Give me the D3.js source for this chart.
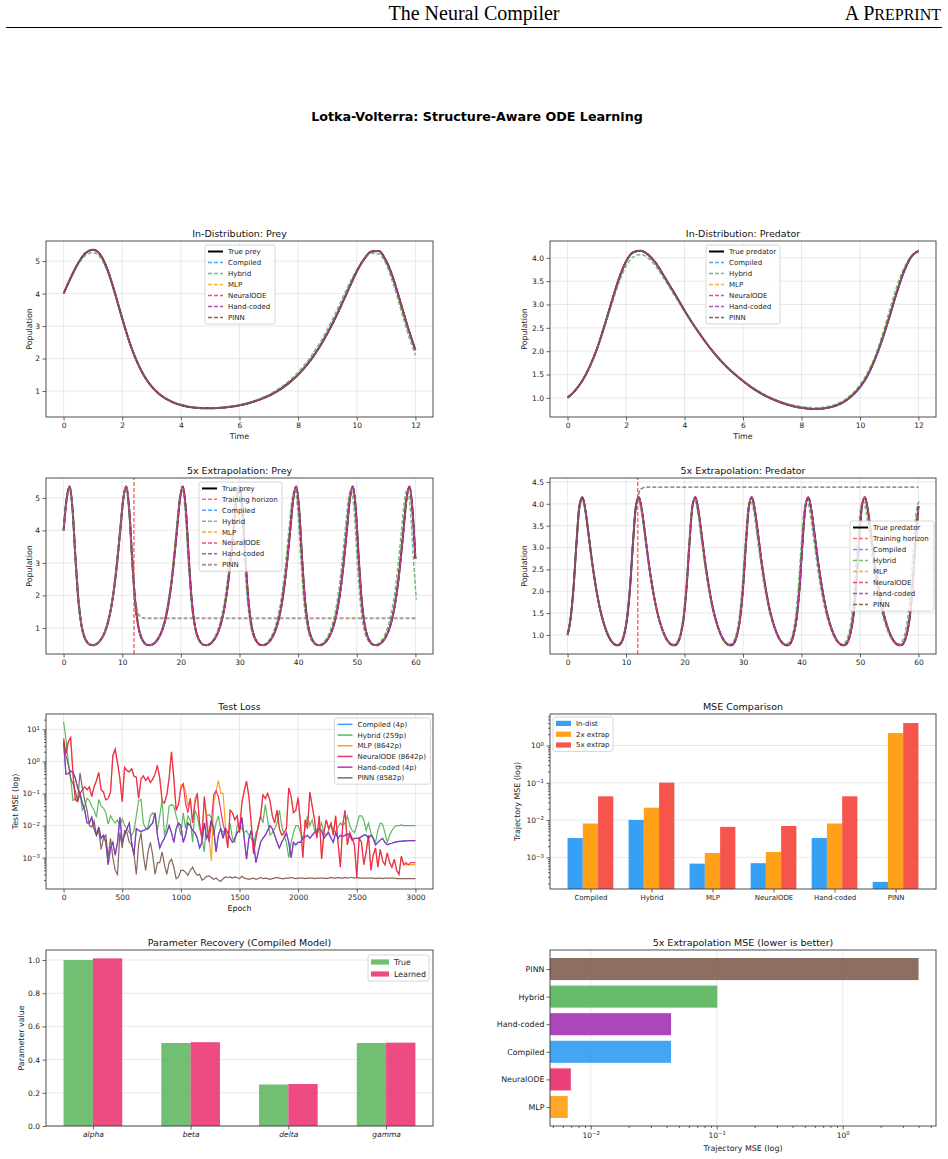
<!DOCTYPE html>
<html>
<head>
<meta charset="utf-8">
<script src="https://cdn.jsdelivr.net/npm/d3@7"></script>
<style>
body { margin: 0; background: #fff; }
svg text { font-family: "DejaVu Sans", sans-serif; fill: #222; }
</style>
</head>
<body>
<svg id="fig" width="948" height="1159"></svg>
<script>
// ---- trajectories, in-distribution (t = 0..12, step 0.25) ----
const inDistT = d3.range(49).map(i => i * 0.25);
const truePrey = [4.00, 4.50, 4.94, 5.25, 5.35, 5.20, 4.73, 4.02, 3.23, 2.50, 1.91, 1.46, 1.14, 0.915, 0.756, 0.645, 0.569,
  0.518, 0.487, 0.471, 0.467, 0.474, 0.492, 0.520, 0.559, 0.610, 0.675, 0.756, 0.855, 0.976, 1.122, 1.297, 1.506,
  1.754, 2.046, 2.387, 2.778, 3.218, 3.698, 4.198, 4.682, 5.06, 5.30, 5.31, 5.01, 4.45, 3.70, 2.94, 2.26];
const truePred = [1.00, 1.15, 1.36, 1.66, 2.04, 2.52, 3.04, 3.54, 3.92, 4.12, 4.15, 4.07, 3.90, 3.66, 3.40, 3.14, 2.87,
  2.62, 2.39, 2.17, 1.97, 1.79, 1.63, 1.49, 1.36, 1.24, 1.14, 1.05, 0.976, 0.912, 0.859, 0.817, 0.787,
  0.769, 0.763, 0.773, 0.801, 0.852, 0.933, 1.06, 1.23, 1.47, 1.81, 2.23, 2.72, 3.24, 3.70, 4.02, 4.15];
const hybridPrey = [4.00, 4.48, 4.90, 5.18, 5.26, 5.12, 4.66, 3.98, 3.22, 2.51, 1.93, 1.48, 1.16, 0.93, 0.77, 0.66, 0.585,
  0.53, 0.50, 0.485, 0.48, 0.487, 0.505, 0.535, 0.575, 0.63, 0.70, 0.785, 0.89, 1.02, 1.175, 1.36, 1.58,
  1.84, 2.15, 2.50, 2.91, 3.36, 3.84, 4.32, 4.74, 5.06, 5.24, 5.22, 4.90, 4.28, 3.52, 2.76, 2.10];
const hybridPred = [1.00, 1.15, 1.36, 1.65, 2.02, 2.48, 2.98, 3.45, 3.82, 4.02, 4.07, 4.00, 3.83, 3.60, 3.35, 3.10, 2.85,
  2.61, 2.38, 2.17, 1.98, 1.80, 1.64, 1.50, 1.37, 1.26, 1.16, 1.07, 0.995, 0.93, 0.88, 0.84, 0.81,
  0.795, 0.79, 0.80, 0.83, 0.885, 0.97, 1.10, 1.28, 1.53, 1.87, 2.32, 2.85, 3.37, 3.78, 4.03, 4.12];

// ---- trajectories, 5x extrapolation (t = 0..60) ----
const extrapT = d3.range(119).map(i => i * 60 / 118);
const extrapPrey = [
  4.00, 4.95, 5.35, 4.65, 3.12, 1.82, 1.08, 0.72, 0.552, 0.48, 0.468, 0.503, 0.581, 0.712, 0.915, 1.217, 1.65, 2.254, 3.06,
  4.00, 4.95, 5.35, 4.65, 3.12, 1.82, 1.08, 0.72, 0.552, 0.48, 0.468, 0.503, 0.581, 0.712, 0.915, 1.217, 1.65, 2.254, 3.06,
  4.00, 4.95, 5.35, 4.65, 3.12, 1.82, 1.08, 0.72, 0.552, 0.48, 0.468, 0.503, 0.581, 0.712, 0.915, 1.217, 1.65, 2.254, 3.06,
  4.00, 4.95, 5.35, 4.65, 3.12, 1.82, 1.08, 0.72, 0.552, 0.48, 0.468, 0.503, 0.581, 0.712, 0.915, 1.217, 1.65, 2.254, 3.06,
  4.00, 4.95, 5.35, 4.65, 3.12, 1.82, 1.08, 0.72, 0.552, 0.48, 0.468, 0.503, 0.581, 0.712, 0.915, 1.217, 1.65, 2.254, 3.06,
  4.00, 4.95, 5.35, 4.65, 3.12, 1.82, 1.08, 0.72, 0.552, 0.48, 0.468, 0.503, 0.581, 0.712, 0.915, 1.217, 1.65, 2.254, 3.06,
  4.00, 4.95, 5.35, 4.65, 3.12];
const extrapPred = [
  1.00, 1.37, 2.07, 3.10, 3.95, 4.15, 3.85, 3.34, 2.80, 2.32, 1.91, 1.57, 1.31, 1.10, 0.944, 0.836, 0.776, 0.765, 0.815,
  1.00, 1.37, 2.07, 3.10, 3.95, 4.15, 3.85, 3.34, 2.80, 2.32, 1.91, 1.57, 1.31, 1.10, 0.944, 0.836, 0.776, 0.765, 0.815,
  1.00, 1.37, 2.07, 3.10, 3.95, 4.15, 3.85, 3.34, 2.80, 2.32, 1.91, 1.57, 1.31, 1.10, 0.944, 0.836, 0.776, 0.765, 0.815,
  1.00, 1.37, 2.07, 3.10, 3.95, 4.15, 3.85, 3.34, 2.80, 2.32, 1.91, 1.57, 1.31, 1.10, 0.944, 0.836, 0.776, 0.765, 0.815,
  1.00, 1.37, 2.07, 3.10, 3.95, 4.15, 3.85, 3.34, 2.80, 2.32, 1.91, 1.57, 1.31, 1.10, 0.944, 0.836, 0.776, 0.765, 0.815,
  1.00, 1.37, 2.07, 3.10, 3.95, 4.15, 3.85, 3.34, 2.80, 2.32, 1.91, 1.57, 1.31, 1.10, 0.944, 0.836, 0.776, 0.765, 0.815,
  1.00, 1.37, 2.07, 3.10, 3.95];
// hybrid runs slightly fast, so it has its own sampling step
const hybridExtrapT = d3.range(120).map(i => i * 0.5055);
const hybridExtrapPrey = [
  4.00, 4.90, 5.26, 4.62, 3.15, 1.87, 1.13, 0.75, 0.575, 0.495, 0.48, 0.507, 0.59, 0.72, 0.93, 1.24, 1.67, 2.27, 3.07,
  4.00, 4.90, 5.26, 4.62, 3.15, 1.87, 1.13, 0.75, 0.575, 0.495, 0.48, 0.507, 0.59, 0.72, 0.93, 1.24, 1.67, 2.27, 3.07,
  4.00, 4.90, 5.26, 4.62, 3.15, 1.87, 1.13, 0.75, 0.575, 0.495, 0.48, 0.507, 0.59, 0.72, 0.93, 1.24, 1.67, 2.27, 3.07,
  4.00, 4.90, 5.26, 4.62, 3.15, 1.87, 1.13, 0.75, 0.575, 0.495, 0.48, 0.507, 0.59, 0.72, 0.93, 1.24, 1.67, 2.27, 3.07,
  4.00, 4.90, 5.26, 4.62, 3.15, 1.87, 1.13, 0.75, 0.575, 0.495, 0.48, 0.507, 0.59, 0.72, 0.93, 1.24, 1.67, 2.27, 3.07,
  4.00, 4.90, 5.26, 4.62, 3.15, 1.87, 1.13, 0.75, 0.575, 0.495, 0.48, 0.507, 0.59, 0.72, 0.93, 1.24, 1.67, 2.27, 3.07,
  4.00, 4.90, 5.26, 4.62, 3.15, 1.87];
const hybridExtrapPred = [
  1.00, 1.37, 2.04, 3.02, 3.85, 4.07, 3.81, 3.32, 2.81, 2.34, 1.94, 1.61, 1.35, 1.14, 0.98, 0.865, 0.80, 0.792, 0.84,
  1.00, 1.37, 2.04, 3.02, 3.85, 4.07, 3.81, 3.32, 2.81, 2.34, 1.94, 1.61, 1.35, 1.14, 0.98, 0.865, 0.80, 0.792, 0.84,
  1.00, 1.37, 2.04, 3.02, 3.85, 4.07, 3.81, 3.32, 2.81, 2.34, 1.94, 1.61, 1.35, 1.14, 0.98, 0.865, 0.80, 0.792, 0.84,
  1.00, 1.37, 2.04, 3.02, 3.85, 4.07, 3.81, 3.32, 2.81, 2.34, 1.94, 1.61, 1.35, 1.14, 0.98, 0.865, 0.80, 0.792, 0.84,
  1.00, 1.37, 2.04, 3.02, 3.85, 4.07, 3.81, 3.32, 2.81, 2.34, 1.94, 1.61, 1.35, 1.14, 0.98, 0.865, 0.80, 0.792, 0.84,
  1.00, 1.37, 2.04, 3.02, 3.85, 4.07, 3.81, 3.32, 2.81, 2.34, 1.94, 1.61, 1.35, 1.14, 0.98, 0.865, 0.80, 0.792, 0.84,
  1.00, 1.37, 2.04, 3.02, 3.85, 4.07];
// PINN collapses to a fixed point after the training horizon
const horizon = 12;
const pinnTailT = [12.0, 12.3, 12.6, 13.0, 13.5, 14.0, 20, 30, 40, 50, 60];
const pinnTailPrey = [2.26, 1.80, 1.50, 1.36, 1.31, 1.30, 1.30, 1.30, 1.30, 1.30, 1.30];
const pinnTailPred = [4.15, 4.28, 4.34, 4.37, 4.38, 4.38, 4.38, 4.38, 4.38, 4.38, 4.38];

// ---- test loss, every 20 epochs ----
const epochs = d3.range(151).map(i => i * 20);
const lossHybrid = [17, 5, 1.0, 0.3, 0.06, 0.07, 0.06, 0.1, 0.03, 0.04,
  0.07, 0.06, 0.04, 0.03, 0.018, 0.065, 0.04, 0.035, 0.025, 0.011,
  0.02, 0.015, 0.012, 0.015, 0.01, 0.016, 0.01, 0.008, 0.006, 0.005,
  0.007, 0.02, 0.06, 0.065, 0.012, 0.008, 0.009, 0.02, 0.025, 0.02,
  0.007, 0.02, 0.065, 0.005, 0.01, 0.04, 0.045, 0.04, 0.02, 0.01,
  0.005, 0.025, 0.008, 0.02, 0.015, 0.003, 0.03, 0.02, 0.008, 0.004,
  0.0015, 0.02, 0.022, 0.018, 0.005, 0.012, 0.02, 0.008, 0.006, 0.008,
  0.003, 0.012, 0.004, 0.003, 0.01, 0.012, 0.008, 0.006, 0.007, 0.005,
  0.004, 0.0025, 0.006, 0.008, 0.02, 0.012, 0.045, 0.015, 0.005, 0.006,
  0.008, 0.012, 0.03, 0.01, 0.005, 0.003, 0.001, 0.003, 0.006, 0.01,
  0.01, 0.006, 0.004, 0.008, 0.02, 0.01, 0.015, 0.007, 0.005, 0.008,
  0.012, 0.006, 0.005, 0.007, 0.01, 0.008, 0.006, 0.009, 0.012, 0.01,
  0.012, 0.02, 0.01, 0.007, 0.006, 0.01, 0.02, 0.02, 0.015, 0.007,
  0.012, 0.006, 0.004, 0.003, 0.007, 0.012, 0.011, 0.006, 0.003, 0.005,
  0.007, 0.009, 0.01, 0.01, 0.0105, 0.01, 0.01, 0.01, 0.01, 0.01, 0.01];
const lossNeuralODE = [5.1, 1.7, 4.0, 5.5, 0.42, 0.063, 0.056, 0.1, 0.13, 0.16,
  0.13, 0.16, 0.08, 0.16, 0.25, 0.45, 0.13, 0.11, 0.063, 0.07,
  0.11, 1.5, 2.4, 0.9, 0.29, 0.055, 0.65, 0.52, 0.47, 0.59,
  0.35, 0.32, 0.07, 0.28, 0.35, 0.25, 0.32, 0.22, 0.28, 0.4,
  0.75, 0.3, 0.06, 0.05, 0.09, 0.3, 2.0, 0.3, 0.03, 0.045,
  0.14, 0.2, 0.05, 0.025, 0.07, 0.012, 0.05, 0.1, 0.011, 0.004,
  0.08, 0.012, 0.003, 0.011, 0.09, 0.12, 0.08, 0.03, 0.011, 0.006,
  0.002, 0.03, 0.025, 0.015, 0.02, 0.006, 0.05, 0.12, 0.24, 0.08,
  0.012, 0.0013, 0.004, 0.01, 0.02, 0.09, 0.07, 0.1, 0.06, 0.02,
  0.012, 0.03, 0.008, 0.005, 0.006, 0.008, 0.15, 0.08, 0.025, 0.03,
  0.07, 0.012, 0.001, 0.015, 0.008, 0.11, 0.04, 0.015, 0.004, 0.02,
  0.0009, 0.006, 0.015, 0.008, 0.012, 0.005, 0.02, 0.003, 0.0005, 0.01,
  0.03, 0.0025, 0.006, 0.004, 0.0025, 0.00025, 0.004, 0.003, 0.0006, 0.0015,
  0.005, 0.0004, 0.0012, 0.002, 0.0005, 0.0018, 0.0008, 0.0006, 0.0014, 0.0007,
  0.0005, 0.0009, 0.0004, 0.0003, 0.0011, 0.0006, 0.0007, 0.0006, 0.0007, 0.0007, 0.0007];
const lossMLP = [5.1, 1.7, 4.0, 5.5, 0.42, 0.063, 0.056, 0.1, 0.13, 0.16,
  0.13, 0.16, 0.08, 0.16, 0.25, 0.45, 0.13, 0.11, 0.063, 0.07,
  0.11, 1.5, 2.4, 0.9, 0.29, 0.055, 0.65, 0.52, 0.47, 0.59,
  0.35, 0.32, 0.07, 0.28, 0.35, 0.25, 0.32, 0.22, 0.28, 0.4,
  0.75, 0.3, 0.06, 0.05, 0.09, 0.3, 2.0, 0.3, 0.03, 0.045,
  0.18, 0.2, 0.12, 0.04, 0.07, 0.012, 0.07, 0.1, 0.011, 0.004,
  0.08, 0.02, 0.004, 0.0008, 0.05, 0.12, 0.25, 0.1, 0.1, 0.01,
  0.002, 0.03, 0.025, 0.015, 0.02, 0.006, 0.05, 0.12, 0.24, 0.08,
  0.012, 0.0013, 0.004, 0.01, 0.02, 0.09, 0.07, 0.1, 0.06, 0.02,
  0.012, 0.03, 0.008, 0.005, 0.006, 0.008, 0.15, 0.08, 0.025, 0.03,
  0.08, 0.012, 0.001, 0.015, 0.008, 0.11, 0.04, 0.015, 0.004, 0.02,
  0.0009, 0.006, 0.015, 0.008, 0.012, 0.005, 0.02, 0.003, 0.0005, 0.01,
  0.03, 0.0025, 0.006, 0.004, 0.0025, 0.00025, 0.004, 0.003, 0.0006, 0.0015,
  0.005, 0.0004, 0.0012, 0.002, 0.0005, 0.0018, 0.0008, 0.0006, 0.0014, 0.0007,
  0.0005, 0.0009, 0.0004, 0.0003, 0.0011, 0.0006, 0.0006, 0.0006, 0.0006, 0.0006, 0.0006];
const lossHandCoded = [4.1, 0.4, 0.42, 0.5, 0.45, 0.3, 0.15, 0.1, 0.05, 0.03,
  0.012, 0.012, 0.018, 0.008, 0.005, 0.009, 0.004, 0.005, 0.003, 0.0006,
  0.002, 0.003, 0.0012, 0.003, 0.018, 0.003, 0.005, 0.008, 0.012, 0.003,
  0.0012, 0.008, 0.007, 0.0065, 0.007, 0.0075, 0.008, 0.01, 0.012, 0.025,
  0.005, 0.002, 0.003, 0.004, 0.006, 0.01, 0.006, 0.003, 0.008, 0.012,
  0.01, 0.003, 0.005, 0.012, 0.01, 0.007, 0.006, 0.004, 0.002, 0.003,
  0.012, 0.004, 0.006, 0.015, 0.008, 0.0015, 0.005, 0.008, 0.004, 0.008,
  0.006, 0.004, 0.003, 0.004, 0.006, 0.007, 0.018, 0.004, 0.0009, 0.004,
  0.007, 0.003, 0.0007, 0.0015, 0.003, 0.004, 0.005, 0.007, 0.01, 0.008,
  0.005, 0.003, 0.002, 0.003, 0.004, 0.006, 0.003, 0.001, 0.003, 0.0025,
  0.003, 0.003, 0.004, 0.0045, 0.005, 0.004, 0.005, 0.006, 0.007, 0.008,
  0.007, 0.004, 0.005, 0.006, 0.004, 0.003, 0.006, 0.004, 0.005, 0.0045,
  0.005, 0.0055, 0.005, 0.0035, 0.004, 0.004, 0.004, 0.0045, 0.005, 0.005,
  0.004, 0.005, 0.004, 0.0025, 0.003, 0.0035, 0.004, 0.003, 0.0025, 0.0027,
  0.0028, 0.003, 0.0031, 0.0032, 0.0032, 0.0033, 0.0033, 0.0034, 0.0034, 0.0034, 0.0034];
const lossCompiled = lossHandCoded; // both 4-parameter models trace the same curve
const lossPINN = [3.8, 1.5, 0.8, 0.3, 0.2, 0.12, 0.06, 0.44, 0.15, 0.06,
  0.03, 0.01, 0.009, 0.014, 0.005, 0.007, 0.0018, 0.004, 0.005, 0.001,
  0.004, 0.001, 0.0004, 0.0003, 0.006, 0.002, 0.007, 0.006, 0.003, 0.0025,
  0.0013, 0.0003, 0.0025, 0.006, 0.0012, 0.0004, 0.0015, 0.003, 0.0012, 0.0003,
  0.0007, 0.0007, 0.0015, 0.0006, 0.0003, 0.0007, 0.0009, 0.0005, 0.00022, 0.00025,
  0.0004, 0.0004, 0.00035, 0.00028, 0.0004, 0.0005, 0.00035, 0.00028, 0.0003, 0.0002,
  0.00022, 0.00026, 0.00027, 0.00024, 0.00021, 0.00023, 0.0002, 0.00018, 0.00022, 0.00025,
  0.00024, 0.00025, 0.00023, 0.00025, 0.00024, 0.00022, 0.00026, 0.00023, 0.00022, 0.00021,
  0.00022, 0.00023, 0.00021, 0.00022, 0.00024, 0.00022, 0.00023, 0.00022, 0.00021, 0.00022,
  0.00023, 0.00024, 0.00023, 0.00022, 0.00022, 0.00023, 0.00023, 0.00024, 0.00023, 0.00022,
  0.00023, 0.00023, 0.00023, 0.00022, 0.00023, 0.00023, 0.00023, 0.00022, 0.00023, 0.00023,
  0.00023, 0.00023, 0.00022, 0.00023, 0.00024, 0.00023, 0.00023, 0.00024, 0.00023, 0.00023,
  0.00024, 0.00023, 0.00024, 0.00024, 0.00023, 0.00024, 0.00023, 0.00023, 0.00023, 0.00023,
  0.00023, 0.00023, 0.00023, 0.00022, 0.00023, 0.00023, 0.00022, 0.00023, 0.00023, 0.00023,
  0.00023, 0.00023, 0.00022, 0.00022, 0.00022, 0.00022, 0.00022, 0.00022, 0.00022, 0.00022, 0.00022];

// ---- MSE summary ----
const models = ["Compiled", "Hybrid", "MLP", "NeuralODE", "Hand-coded", "PINN"];
const paramCounts = ["4p", "259p", "8642p", "8642p", "4p", "8582p"];
const mseInDist = [0.0033, 0.0101, 0.00068, 0.0007, 0.0033, 0.00022];
const mse2x = [0.0081, 0.0215, 0.00131, 0.0014, 0.0081, 2.16];
const mse5x = [0.0434, 0.101, 0.00657, 0.00695, 0.0434, 4.0];

// ---- parameter recovery ----
const paramNames = ["alpha", "beta", "delta", "gamma"];
const paramTrue = [1.0, 0.5, 0.25, 0.5];
const paramLearned = [1.01, 0.505, 0.253, 0.502];

const modelColor = {Compiled: "#2196F3", Hybrid: "#4CAF50", MLP: "#FF9800", NeuralODE: "#E91E63",
  "Hand-coded": "#9C27B0", PINN: "#795548"};

const svg = d3.select("#fig");
const defs = svg.append("defs");
const GRID = "#b0b0b0", SPINE = "#3a3a3a";
let clipCount = 0;

// page header
svg.append("text").attr("x", 474).attr("y", 20).attr("text-anchor", "middle")
  .style("font-family", "'Liberation Serif', serif").attr("font-size", 20).style("fill", "#000")
  .text("The Neural Compiler");
const pre = svg.append("text").attr("x", 941).attr("y", 20).attr("text-anchor", "end")
  .style("font-family", "'Liberation Serif', serif").attr("font-size", 20).style("fill", "#000");
pre.append("tspan").text("A P");
pre.append("tspan").attr("font-size", 16).text("REPRINT");
svg.append("line").attr("x1", 6).attr("x2", 942).attr("y1", 27.5).attr("y2", 27.5)
  .attr("stroke", "#000").attr("stroke-width", 1);

svg.append("text").attr("x", 477).attr("y", 120.5).attr("text-anchor", "middle")
  .attr("font-size", 12.7).attr("font-weight", "bold").style("fill", "#000")
  .text("Lotka-Volterra: Structure-Aware ODE Learning");

function panel(box, title) {
  const g = svg.append("g").attr("transform", `translate(${box.x},${box.y})`);
  const id = "clip" + (clipCount++);
  defs.append("clipPath").attr("id", id).append("rect").attr("width", box.w).attr("height", box.h);
  g.append("text").attr("x", box.w / 2).attr("y", -4.5).attr("text-anchor", "middle")
    .attr("font-size", 9.5).style("fill", "#111").text(title);
  return {g, clip: `url(#${id})`};
}

function tidy(sel) {
  sel.attr("font-family", null).attr("font-size", null);
  sel.select(".domain").remove();
  sel.selectAll(".tick line").attr("stroke", SPINE).attr("stroke-width", 0.8);
  sel.selectAll(".tick text").attr("font-size", 7.5).style("fill", "#222");
}

function powTen(sel) {
  sel.selectAll(".tick text").each(function (d) {
    const e = Math.round(Math.log10(d));
    const t = d3.select(this).text("10");
    t.append("tspan").attr("dy", "-0.5em").attr("font-size", 5.4).text(String(e).replace("-", "\u2212"));
  });
}

function minorTicks(dom) {
  const out = [];
  for (let e = Math.floor(Math.log10(dom[0])); e <= Math.ceil(Math.log10(dom[1])); e++)
    for (let k = 2; k <= 9; k++) {
      const v = k * Math.pow(10, e);
      if (v > dom[0] && v < dom[1]) out.push(v);
    }
  return out;
}

function gridX(g, x, vals, h) {
  g.append("g").selectAll("line").data(vals).join("line")
    .attr("x1", d => x(d)).attr("x2", d => x(d)).attr("y1", 0).attr("y2", h)
    .attr("stroke", GRID).attr("stroke-opacity", 0.35).attr("stroke-width", 0.8);
}
function gridY(g, y, vals, w) {
  g.append("g").selectAll("line").data(vals).join("line")
    .attr("y1", d => y(d)).attr("y2", d => y(d)).attr("x1", 0).attr("x2", w)
    .attr("stroke", GRID).attr("stroke-opacity", 0.35).attr("stroke-width", 0.8);
}
function spines(g, box) {
  g.append("rect").attr("width", box.w).attr("height", box.h).attr("fill", "none")
    .attr("stroke", SPINE).attr("stroke-width", 0.9);
}
function xLabel(g, box, text, dy) {
  g.append("text").attr("x", box.w / 2).attr("y", box.h + dy).attr("text-anchor", "middle")
    .attr("font-size", 7.9).text(text);
}
function yLabel(box, text, px) {
  svg.append("text").attr("transform", `translate(${px},${box.y + box.h / 2}) rotate(-90)`)
    .attr("text-anchor", "middle").attr("dy", "0.35em").attr("font-size", 7.9).text(text);
}

function legend(x0, y0, w, rowH, items, fs, textDx) {
  const h = items.length * rowH + 2;
  const g = svg.append("g");
  g.append("rect").attr("x", x0).attr("y", y0).attr("width", w).attr("height", h).attr("rx", 2)
    .attr("fill", "#fff").attr("fill-opacity", 0.8).attr("stroke", "#cccccc").attr("stroke-width", 0.8);
  items.forEach((it, i) => {
    const cy = y0 + 1 + rowH * (i + 0.5);
    if (it.patch) {
      g.append("rect").attr("x", x0 + 3).attr("y", cy - 2.6).attr("width", textDx - 8).attr("height", 5.2)
        .attr("fill", it.color).attr("fill-opacity", it.op || 1);
    } else {
      g.append("line").attr("x1", x0 + 3).attr("x2", x0 + 18).attr("y1", cy).attr("y2", cy)
        .attr("stroke", it.color).attr("stroke-width", it.w).attr("stroke-opacity", it.op || 1)
        .attr("stroke-dasharray", it.dash || null);
    }
    g.append("text").attr("x", x0 + textDx).attr("y", cy).attr("dy", "0.35em").attr("font-size", fs).text(it.label);
  });
}

// trajectory panel
function trajPanel(box, title, xDom, yDom, xTicks, yTicks, yFmt, series, withTimeLabel) {
  const {g, clip} = panel(box, title);
  const x = d3.scaleLinear().domain(xDom).range([0, box.w]);
  const y = d3.scaleLinear().domain(yDom).range([box.h, 0]);
  gridX(g, x, xTicks, box.h);
  gridY(g, y, yTicks, box.w);
  const line = d3.line().x(d => x(d[0])).y(d => y(d[1])).curve(d3.curveMonotoneX);
  series.forEach(s => {
    g.append("path").attr("d", line(d3.zip(s.t, s.v))).attr("clip-path", clip)
      .attr("fill", "none").attr("stroke", s.color).attr("stroke-width", s.w)
      .attr("stroke-opacity", s.op || 1).attr("stroke-dasharray", s.dash || null)
      .attr("stroke-dashoffset", s.off || 0);
  });
  spines(g, box);
  g.append("g").attr("transform", `translate(0,${box.h})`)
    .call(d3.axisBottom(x).tickValues(xTicks).tickFormat(d3.format("d")).tickSize(3.5).tickPadding(2.5)).call(tidy);
  g.append("g").call(d3.axisLeft(y).tickValues(yTicks).tickFormat(yFmt).tickSize(3.5).tickPadding(2.5)).call(tidy);
  if (withTimeLabel) xLabel(g, box, "Time", 22);
}

const DASH = "4,2";
function modelLines(t, prey, hybT, hyb, pinnT, pinn, pinnStyle) {
  return [
    {t: t, v: prey, color: modelColor.Compiled, w: 1.5, dash: DASH, op: 0.8, off: 0},
    {t: hybT, v: hyb, color: modelColor.Hybrid, w: 1.5, dash: DASH, op: 0.8, off: 1},
    {t: t, v: prey, color: modelColor.MLP, w: 1.5, dash: DASH, op: 0.8, off: 2},
    {t: t, v: prey, color: modelColor.NeuralODE, w: 1.5, dash: DASH, op: 0.8, off: 3},
    {t: t, v: prey, color: modelColor["Hand-coded"], w: 1.5, dash: DASH, op: 0.8, off: 4.5},
    Object.assign({t: pinnT, v: pinn, dash: DASH, off: 1.5}, pinnStyle)
  ];
}
function modelLegend(trueLabel, withHorizon, pinnStyle) {
  const items = [{label: trueLabel, color: "#000", w: 2}];
  if (withHorizon) items.push({label: "Training horizon", color: "#ff3b3b", w: 1.5, dash: DASH, op: 0.75});
  ["Compiled", "Hybrid", "MLP", "NeuralODE", "Hand-coded"].forEach(m =>
    items.push({label: m, color: modelColor[m], w: 1.5, dash: DASH, op: 0.8}));
  items.push(Object.assign({label: "PINN", dash: DASH}, pinnStyle));
  return items;
}

const boxL = x => ({x: 46, w: 387});
const cols = {L: {x: 46, w: 387}, R: {x: 550, w: 386}};
const rows = [{y: 241, h: 176}, {y: 478, h: 176}, {y: 714, h: 175}, {y: 950, h: 176}];
const box = (c, r) => ({x: cols[c].x, w: cols[c].w, y: rows[r].y, h: rows[r].h});

const pinnDark = {color: modelColor.PINN, w: 1.3, op: 0.9};
const pinnLight = {color: "#8d6e63", w: 2, op: 0.7};
const inTicks = [0, 2, 4, 6, 8, 10, 12];
const exTicks = [0, 10, 20, 30, 40, 50, 60];

// row 1: in-distribution
trajPanel(box("L", 0), "In-Distribution: Prey", [-0.6, 12.6], [0.2, 5.62], inTicks, [1, 2, 3, 4, 5], d3.format("d"),
  [{t: inDistT, v: truePrey, color: "#000", w: 2}].concat(
    modelLines(inDistT, truePrey, inDistT, hybridPrey, inDistT, truePrey, pinnDark)), true);
legend(205, 245, 70, 11, modelLegend("True prey", false, pinnDark), 7, 23);
yLabel(box("L", 0), "Population", 29);

trajPanel(box("R", 0), "In-Distribution: Predator", [-0.6, 12.6], [0.59, 4.36], inTicks,
  [1, 1.5, 2, 2.5, 3, 3.5, 4], d3.format(".1f"),
  [{t: inDistT, v: truePred, color: "#000", w: 2}].concat(
    modelLines(inDistT, truePred, inDistT, hybridPred, inDistT, truePred, pinnDark)), true);
legend(706, 245, 74, 11, modelLegend("True predator", false, pinnDark), 7, 23);
yLabel(box("R", 0), "Population", 524);

// row 2: 5x extrapolation
const beforeHorizon = extrapT.filter(t => t < horizon);
const pinnPreyT = beforeHorizon.concat(pinnTailT);
const pinnPreyV = extrapPrey.slice(0, beforeHorizon.length).concat(pinnTailPrey);
const pinnPredV = extrapPred.slice(0, beforeHorizon.length).concat(pinnTailPred);
const preyDom = [0.2, 5.61], predDom = [0.565, 4.59];

trajPanel(box("L", 1), "5x Extrapolation: Prey", [-3, 63], preyDom, exTicks, [1, 2, 3, 4, 5], d3.format("d"),
  [{t: extrapT, v: extrapPrey, color: "#000", w: 2},
   {t: [horizon, horizon], v: preyDom, color: "#ff3b3b", w: 1.5, dash: DASH, op: 0.75}].concat(
    modelLines(extrapT, extrapPrey, hybridExtrapT, hybridExtrapPrey, pinnPreyT, pinnPreyV, pinnLight)), false);
legend(199, 482, 83, 10.9, modelLegend("True prey", true, pinnLight), 7, 23);
yLabel(box("L", 1), "Population", 29);

trajPanel(box("R", 1), "5x Extrapolation: Predator", [-3, 63], predDom, exTicks,
  [1, 1.5, 2, 2.5, 3, 3.5, 4, 4.5], d3.format(".1f"),
  [{t: extrapT, v: extrapPred, color: "#000", w: 2},
   {t: [horizon, horizon], v: predDom, color: "#ff3b3b", w: 1.5, dash: DASH, op: 0.75}].concat(
    modelLines(extrapT, extrapPred, hybridExtrapT, hybridExtrapPred, pinnPreyT, pinnPredV, pinnDark)), false);
legend(850, 521, 84, 11, modelLegend("True predator", true, pinnDark), 7, 23);
yLabel(box("R", 1), "Population", 524);

// row 3 left: test loss
{
  const b = box("L", 2);
  const {g, clip} = panel(b, "Test Loss");
  const x = d3.scaleLinear().domain([-150, 3150]).range([0, b.w]);
  const yDom = [1.05e-4, 30];
  const y = d3.scaleLog().domain(yDom).range([b.h, 0]);
  const xt = [0, 500, 1000, 1500, 2000, 2500, 3000], yt = [1e-3, 1e-2, 1e-1, 1, 10];
  gridX(g, x, xt, b.h);
  gridY(g, y, yt, b.w);
  const line = d3.line().x((d, i) => x(epochs[i])).y(d => y(d));
  const losses = [lossCompiled, lossHybrid, lossMLP, lossNeuralODE, lossHandCoded, lossPINN];
  models.forEach((m, k) => {
    g.append("path").attr("d", line(losses[k])).attr("clip-path", clip).attr("fill", "none")
      .attr("stroke", modelColor[m]).attr("stroke-width", 1.2).attr("stroke-opacity", 0.9);
  });
  spines(g, b);
  g.append("g").attr("transform", `translate(0,${b.h})`)
    .call(d3.axisBottom(x).tickValues(xt).tickFormat(d3.format("d")).tickSize(3.5).tickPadding(2.5)).call(tidy);
  g.append("g").call(d3.axisLeft(y).tickValues(minorTicks(yDom)).tickFormat("").tickSize(2)).call(tidy);
  g.append("g").call(d3.axisLeft(y).tickValues(yt).tickSize(3.5).tickPadding(2.5)).call(tidy).call(powTen);
  xLabel(g, b, "Epoch", 22);
  yLabel(b, "Test MSE (log)", 15);
  legend(334.5, 718, 96, 10.7,
    models.map((m, k) => ({label: `${m} (${paramCounts[k]})`, color: modelColor[m], w: 1.5, op: 0.9})), 7, 23);
}

// row 3 right: MSE comparison
{
  const b = box("R", 2);
  const {g} = panel(b, "MSE Comparison");
  const x = d3.scaleLinear().domain([-0.6625, 5.6625]).range([0, b.w]);
  const yDom = [1.42e-4, 7.0];
  const y = d3.scaleLog().domain(yDom).range([b.h, 0]);
  const yt = [1e-3, 1e-2, 1e-1, 1];
  gridY(g, y, yt, b.w);
  const groups = [
    {label: "In-dist", vals: mseInDist, color: "#2196F3", off: -0.25},
    {label: "2x extrap", vals: mse2x, color: "#FF9800", off: 0},
    {label: "5x extrap", vals: mse5x, color: "#F44336", off: 0.25}
  ];
  groups.forEach(s => {
    g.append("g").selectAll("rect").data(s.vals).join("rect")
      .attr("x", (d, i) => x(i + s.off - 0.125))
      .attr("width", (d, i) => x(i + s.off + 0.125) - x(i + s.off - 0.125))
      .attr("y", d => y(d)).attr("height", d => b.h - y(d))
      .attr("fill", s.color).attr("fill-opacity", 0.9);
  });
  spines(g, b);
  g.append("g").attr("transform", `translate(0,${b.h})`)
    .call(d3.axisBottom(x).tickValues(d3.range(models.length)).tickFormat(i => models[i]).tickSize(3.5).tickPadding(2.5))
    .call(tidy).call(s => s.selectAll(".tick text").attr("font-size", 7));
  g.append("g").call(d3.axisLeft(y).tickValues(minorTicks(yDom)).tickFormat("").tickSize(2)).call(tidy);
  g.append("g").call(d3.axisLeft(y).tickValues(yt).tickSize(3.5).tickPadding(2.5)).call(tidy).call(powTen);
  yLabel(b, "Trajectory MSE (log)", 517);
  legend(553, 717, 60, 10.8, groups.map(s => ({label: s.label, color: s.color, patch: true, op: 0.9})), 7, 23);
}

// row 4 left: parameter recovery
{
  const b = box("L", 3);
  const {g} = panel(b, "Parameter Recovery (Compiled Model)");
  const x = d3.scaleLinear().domain([-0.48, 3.48]).range([0, b.w]);
  const y = d3.scaleLinear().domain([0, 1.0605]).range([b.h, 0]);
  const yt = [0, 0.2, 0.4, 0.6, 0.8, 1.0];
  gridY(g, y, yt, b.w);
  const sets = [
    {label: "True", vals: paramTrue, color: "#4CAF50", off: -0.15},
    {label: "Learned", vals: paramLearned, color: "#E91E63", off: 0.15}
  ];
  sets.forEach(s => {
    g.append("g").selectAll("rect").data(s.vals).join("rect")
      .attr("x", (d, i) => x(i + s.off - 0.15))
      .attr("width", (d, i) => x(i + s.off + 0.15) - x(i + s.off - 0.15))
      .attr("y", d => y(d)).attr("height", d => b.h - y(d))
      .attr("fill", s.color).attr("fill-opacity", 0.8);
  });
  spines(g, b);
  g.append("g").attr("transform", `translate(0,${b.h})`)
    .call(d3.axisBottom(x).tickValues(d3.range(paramNames.length)).tickFormat(i => paramNames[i]).tickSize(3.5).tickPadding(2.5))
    .call(tidy).call(s => s.selectAll(".tick text").attr("font-style", "italic"));
  g.append("g").call(d3.axisLeft(y).tickValues(yt).tickFormat(d3.format(".1f")).tickSize(3.5).tickPadding(2.5)).call(tidy);
  yLabel(b, "Parameter value", 21);
  legend(368, 955, 61, 12, sets.map(s => ({label: s.label, color: s.color, patch: true, op: 0.8})), 7.9, 26);
}

// row 4 right: 5x extrapolation MSE, sorted
{
  const b = box("R", 3);
  const {g} = panel(b, "5x Extrapolation MSE (lower is better)");
  const order = d3.sort(d3.range(models.length), i => mse5x[i]);
  const xDom = [4.75e-3, 5.5];
  const x = d3.scaleLog().domain(xDom).range([0, b.w]);
  const y = d3.scaleLinear().domain([-0.69, 5.69]).range([b.h, 0]);
  const xt = [1e-2, 1e-1, 1];
  gridX(g, x, xt, b.h);
  g.append("g").selectAll("rect").data(order).join("rect")
    .attr("x", 0).attr("width", i => x(mse5x[i]))
    .attr("y", (i, k) => y(k + 0.4)).attr("height", (i, k) => y(k - 0.4) - y(k + 0.4))
    .attr("fill", i => modelColor[models[i]]).attr("fill-opacity", 0.85);
  spines(g, b);
  g.append("g").attr("transform", `translate(0,${b.h})`)
    .call(d3.axisBottom(x).tickValues(minorTicks(xDom)).tickFormat("").tickSize(2)).call(tidy);
  g.append("g").attr("transform", `translate(0,${b.h})`)
    .call(d3.axisBottom(x).tickValues(xt).tickSize(3.5).tickPadding(3)).call(tidy).call(powTen);
  g.append("g").call(d3.axisLeft(y).tickValues(d3.range(order.length)).tickFormat(k => models[order[k]])
    .tickSize(3.5).tickPadding(2)).call(tidy).call(s => s.selectAll(".tick text").attr("font-size", 7.9));
  xLabel(g, b, "Trajectory MSE (log)", 24.5);
}
</script>
</body>
</html>
